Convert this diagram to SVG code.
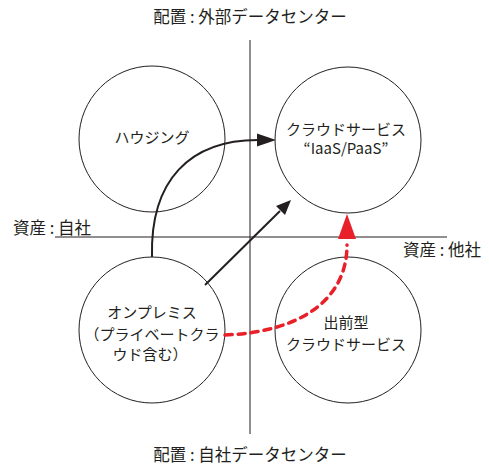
<svg xmlns="http://www.w3.org/2000/svg" width="489" height="467" viewBox="0 0 489 467">
<style>
text{font-family:"Noto Sans CJK JP","Noto Sans CJK SC",sans-serif;fill:#231f20;}
.lbl{font-size:16.5px;}
.nt{font-size:15px;text-anchor:middle;}
.c{fill:#fff;stroke:#231f20;stroke-width:1;}
.ax{stroke:#231f20;stroke-width:1;fill:none;}
.blk{stroke:#231f20;stroke-width:2;fill:none;}
.red{stroke:#e8202a;stroke-width:3.5;fill:none;stroke-dasharray:7 6;stroke-linecap:round;}
</style>
<g id="axes">
<line class="ax" x1="250" y1="40" x2="250" y2="434"/>
<line class="ax" x1="55" y1="237" x2="447" y2="237"/>
</g>
<g id="housing"><circle class="c" cx="152" cy="139" r="73"/><text class="nt" x="152" y="143">ハウジング</text></g>
<g id="cloud"><circle class="c" cx="348" cy="140" r="73"/><text class="nt" x="346" y="135">クラウドサービス</text><text class="nt" x="346" y="154">“IaaS/PaaS”</text></g>
<g id="onprem"><circle class="c" cx="152" cy="330" r="73"/><text class="nt" x="152" y="318">オンプレミス</text><text class="nt" x="152" y="340">（プライベートクラ</text><text class="nt" x="150" y="360">ウド含む）</text></g>
<g id="demae"><circle class="c" cx="348" cy="330" r="73"/><text class="nt" x="346" y="328">出前型</text><text class="nt" x="346" y="350">クラウドサービス</text></g>
<g id="labels">
<text class="lbl" x="250" y="23" text-anchor="middle">配置 : 外部データセンター</text>
<text class="lbl" x="13" y="234">資産 : 自社</text>
<text class="lbl" x="403" y="256">資産 : 他社</text>
<text class="lbl" x="250" y="461" text-anchor="middle">配置 : 自社データセンター</text>
</g>
<g id="connectors">
<path class="blk" d="M152,257 C150,180 190,140 258,140"/>
<path d="M257,133.5 L276,140 L257,146.5 Z" fill="#231f20"/>
<line class="blk" x1="205" y1="285" x2="280" y2="211"/>
<path d="M276,206 L291,200 L285,215 Z" fill="#231f20"/>
<path class="red" d="M225,335 C300,332 347,300 347,245"/>
<path d="M338,239 L347,214 L356,239 Z" fill="#e8202a"/>
</g>
</svg>
